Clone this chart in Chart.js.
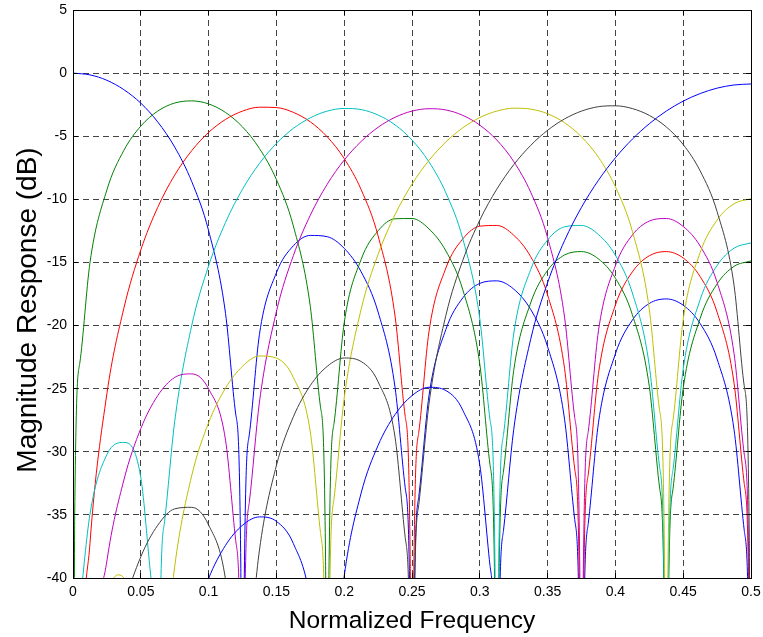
<!DOCTYPE html>
<html><head><meta charset="utf-8">
<script src="https://cdn.jsdelivr.net/npm/chart.js@4.4.1/dist/chart.umd.min.js"></script>
<style>html,body{margin:0;padding:0;background:#fff;}#wrap{width:763px;height:637px;}</style>
</head><body><div id="wrap"><canvas id="c" width="763" height="637"></canvas></div>
<script>
// Normalized frequency grid (shared by all series)
const freq = [0,0.0125,0.025,0.0375,0.05,0.0625,0.075,0.0875,0.1,0.1125,0.125,0.1375,0.15,0.1625,0.175,0.1875,0.2,0.2125,0.225,0.2375,0.25,0.2625,0.275,0.2875,0.3,0.3125,0.325,0.3375,0.35,0.3625,0.375,0.3875,0.4,0.4125,0.425,0.4375,0.45,0.4625,0.475,0.4875,0.5];
// Magnitude responses in dB (values far below -40 mark the nulls)
const h0 = [0,-0.14,-0.57,-1.31,-2.38,-3.87,-5.86,-8.58,-12.48,-19.05,-100,-20.70,-15.82,-13.68,-12.86,-12.96,-13.88,-15.74,-18.93,-24.90,-100,-25.58,-20.30,-17.80,-16.66,-16.46,-17.11,-18.72,-21.68,-27.42,-100,-27.71,-22.24,-19.57,-18.25,-17.89,-18.39,-19.84,-22.65,-28.25,-100];
const h1 = [-100,-15.03,-9.25,-6.12,-4.20,-3.01,-2.37,-2.20,-2.44,-3.12,-4.26,-5.97,-8.43,-12.11,-18.48,-100,-19.79,-14.76,-12.49,-11.54,-11.52,-12.34,-14.09,-17.18,-23.06,-100,-23.57,-18.21,-15.63,-14.41,-14.14,-14.72,-16.25,-19.14,-24.82,-100,-24.97,-19.43,-16.70,-15.31,-14.88];
const h2 = [-100,-37.28,-25.40,-18.63,-14.01,-10.63,-8.08,-6.15,-4.70,-3.67,-3.01,-2.70,-2.73,-3.11,-3.86,-5.05,-6.77,-9.23,-12.90,-19.25,-100,-20.50,-15.44,-13.13,-12.13,-12.07,-12.84,-14.54,-17.58,-23.40,-100,-23.81,-18.38,-15.75,-14.47,-14.14,-14.65,-16.12,-18.94,-24.56,-100];
const h3 = [-100,-34.96,-30.22,-29.26,-32.04,-100,-27.59,-20.02,-15.27,-11.83,-9.20,-7.16,-5.57,-4.38,-3.54,-3.01,-2.80,-2.89,-3.32,-4.10,-5.30,-7.03,-9.49,-13.14,-19.47,-100,-20.67,-15.57,-13.22,-12.18,-12.07,-12.79,-14.43,-17.42,-23.18,-100,-23.44,-17.95,-15.24,-13.87,-13.45];
const h4 = [-100,-50.3,-38.65,-32.24,-28.16,-25.55,-24.11,-23.83,-25.02,-29.08,-100,-26.06,-18.90,-14.46,-11.26,-8.80,-6.89,-5.41,-4.29,-3.50,-3.01,-2.82,-2.92,-3.35,-4.12,-5.30,-7.00,-9.43,-13.04,-19.33,-100,-20.42,-15.25,-12.83,-11.72,-11.52,-12.15,-13.70,-16.58,-22.22,-100];
const h5 = [-100,-45.48,-40.82,-39.99,-42.95,-100,-39.08,-31.91,-27.70,-24.95,-23.23,-22.41,-22.58,-24.11,-28.43,-100,-25.75,-18.71,-14.36,-11.21,-8.80,-6.92,-5.45,-4.33,-3.52,-3.01,-2.78,-2.85,-3.22,-3.93,-5.05,-6.67,-9.01,-12.53,-18.70,-100,-19.54,-14.22,-11.64,-10.35,-9.95];
const h6 = [-100,-60.3,-48.67,-42.31,-38.32,-35.82,-34.52,-34.40,-35.80,-40.13,-100,-37.79,-31.09,-27.23,-24.75,-23.23,-22.57,-22.85,-24.46,-28.84,-100,-26.23,-19.19,-14.82,-11.65,-9.20,-7.26,-5.73,-4.53,-3.63,-3.01,-2.66,-2.59,-2.81,-3.35,-4.26,-5.66,-7.75,-10.98,-16.82,-100];
const h7 = [-100,-57.4,-52.8,-52.0,-55.0,-100,-51.2,-44.16,-40.04,-37.41,-35.82,-35.16,-35.51,-37.27,-41.85,-100,-39.86,-33.27,-29.49,-27.05,-25.55,-24.89,-25.15,-26.72,-31.04,-100,-28.25,-21.10,-16.60,-13.27,-10.63,-8.49,-6.71,-5.23,-4.01,-3.01,-2.22,-1.62,-1.19,-0.94,-0.86];
// Extra points read near the sharp nulls: [frequency, dB]
const h0Edge = [[0.12,-27.01],[0.12375,-39.05],[0.12625,-40.70],[0.13,-28.66],[0.245,-32.86],[0.24875,-44.90],[0.25125,-45.58],[0.255,-33.54],[0.37,-35.38],[0.37375,-47.42],[0.37625,-47.71],[0.38,-35.67],[0.495,-36.21],[0.49875,-48.25]];
const h1Edge = [[0.00125,-35.03],[0.005,-22.99],[0.1825,-26.44],[0.18625,-38.48],[0.18875,-39.79],[0.1925,-27.75],[0.3075,-31.02],[0.31125,-43.06],[0.31375,-43.57],[0.3175,-31.53],[0.4325,-32.78],[0.43625,-44.82],[0.43875,-44.97],[0.4425,-32.93]];
const h2Edge = [[0.00625,-49.32],[0.245,-27.21],[0.24875,-39.25],[0.25125,-40.50],[0.255,-28.46],[0.37,-31.36],[0.37375,-43.40],[0.37625,-43.81],[0.38,-31.77],[0.495,-32.52],[0.49875,-44.56]];
const h3Edge = [[0.00125,-54],[0.005,-42.2],[0.0575,-40.0],[0.06125,-52.04],[0.06375,-47.59],[0.0675,-35.55],[0.3075,-27.43],[0.31125,-39.47],[0.31375,-40.67],[0.3175,-28.63],[0.4325,-31.14],[0.43625,-43.18],[0.43875,-43.44],[0.4425,-31.40]];
const h4Edge = [[0.12,-37.04],[0.12375,-49.08],[0.12625,-46.06],[0.13,-34.02],[0.37,-27.29],[0.37375,-39.33],[0.37625,-40.42],[0.38,-28.38],[0.495,-30.18],[0.49875,-42.22]];
const h5Edge = [[0.033,-39.75],[0.0575,-50.91],[0.06125,-62.95],[0.06375,-59.08],[0.0675,-47.04],[0.1825,-36.39],[0.18625,-48.43],[0.18875,-45.75],[0.1925,-33.71],[0.4325,-26.66],[0.43625,-38.70],[0.43875,-39.54],[0.4425,-27.50]];
const h6Edge = [[0.12,-48.09],[0.12375,-60.13],[0.12625,-57.79],[0.13,-45.75],[0.245,-36.80],[0.24875,-48.84],[0.25125,-46.23],[0.255,-34.19],[0.495,-24.78],[0.49875,-36.82]];
const h7Edge = [[0.1825,-49.81],[0.18625,-61.85],[0.18875,-59.86],[0.1925,-47.82],[0.3075,-39.00],[0.31125,-51.04],[0.31375,-48.25],[0.3175,-36.21]];

const seriesNames = ['H0','H1','H2','H3','H4','H5','H6','H7'];
const seriesColors = ['#0000ff','#008000','#ff0000','#00bfbf','#bf00bf','#bfbf00','#404040','#0000ff'];
const xTicks = [0,0.05,0.1,0.15,0.2,0.25,0.3,0.35,0.4,0.45,0.5];
const xTickLabels = ['0','0.05','0.1','0.15','0.2','0.25','0.3','0.35','0.4','0.45','0.5'];
const yTicks = [-40,-35,-30,-25,-20,-15,-10,-5,0,5];
const yTickLabels = ['-40','-35','-30','-25','-20','-15','-10','-5','0','5'];
const xTitle = 'Normalized Frequency';
const yTitle = 'Magnitude Response (dB)';

const FONT = '"Liberation Sans", Arial, Helvetica, sans-serif';
const allVals = [h0,h1,h2,h3,h4,h5,h6,h7];
const allEdges = [h0Edge,h1Edge,h2Edge,h3Edge,h4Edge,h5Edge,h6Edge,h7Edge];

function buildPoints(vals, edges){
  const pts = freq.map((f,i)=>({x:f, y:vals[i]}));
  edges.forEach(e=>pts.push({x:e[0], y:e[1]}));
  pts.sort((a,b)=>a.x-b.x);
  return pts;
}

const datasets = allVals.map((v,i)=>({
  label: seriesNames[i],
  data: buildPoints(v, allEdges[i]),
  borderColor: seriesColors[i],
  backgroundColor: seriesColors[i],
  borderWidth: 1,
  pointRadius: 0,
  fill: false,
  cubicInterpolationMode: 'monotone',
  order: allVals.length - i
}));

const framePlugin = {
  id: 'frame',
  afterDraw(chart){
    const {ctx, chartArea:a, scales:{x, y}} = chart;
    ctx.save();
    ctx.strokeStyle = '#000';
    ctx.lineWidth = 1;
    ctx.beginPath();
    const L = 5;
    xTicks.forEach(v=>{
      const px = Math.round(x.getPixelForValue(v)-0.5)+0.5;
      ctx.moveTo(px, a.bottom); ctx.lineTo(px, a.bottom-L);
      ctx.moveTo(px, a.top); ctx.lineTo(px, a.top+L);
    });
    yTicks.forEach(v=>{
      const py = Math.round(y.getPixelForValue(v)-0.5)+0.5;
      ctx.moveTo(a.left, py); ctx.lineTo(a.left+L, py);
      ctx.moveTo(a.right, py); ctx.lineTo(a.right-L, py);
    });
    ctx.stroke();
    ctx.strokeRect(Math.round(a.left-0.5)+0.5, Math.round(a.top-0.5)+0.5, Math.round(a.right-a.left), Math.round(a.bottom-a.top));
    // y axis title
    ctx.fillStyle = '#000';
    ctx.font = '28px ' + FONT;
    ctx.textAlign = 'center';
    ctx.textBaseline = 'alphabetic';
    ctx.translate(36, 310);
    ctx.rotate(-Math.PI/2);
    ctx.fillText(yTitle, 0, 0);
    ctx.restore();
  }
};

function noPad(s){ s.paddingTop = 0; s.paddingBottom = 0; s.paddingLeft = 0; s.paddingRight = 0; }

new Chart(document.getElementById('c'), {
  type: 'line',
  data: { datasets },
  options: {
    responsive: false,
    animation: false,
    devicePixelRatio: 1,
    layout: { padding: { top: 10, right: 12, left: 0, bottom: 0 } },
    plugins: { legend: { display: false }, tooltip: { enabled: false } },
    scales: {
      x: {
        type: 'linear', min: 0, max: 0.5,
        afterFit(s){ s.height = 59; noPad(s); },
        afterBuildTicks(s){ s.ticks = xTicks.map(v=>({value:v})); },
        ticks: { callback: (v,i)=>xTickLabels[i], color: '#000', font: { family: FONT, size: 14 }, padding: 6, maxRotation: 0, autoSkip: false },
        grid: { color: '#444', lineWidth: 1, drawTicks: false },
        border: { display: false, dash: [6,4] },
        title: { display: true, text: xTitle, color: '#000', font: { family: FONT, size: 24.5 }, padding: { top: 0, bottom: 1.5 } }
      },
      y: {
        type: 'linear', min: -40, max: 5,
        afterFit(s){ s.width = 73; noPad(s); },
        afterBuildTicks(s){ s.ticks = yTicks.map(v=>({value:v})); },
        ticks: { callback: (v,i)=>yTickLabels[i], color: '#000', font: { family: FONT, size: 14 }, padding: 6, autoSkip: false },
        grid: { color: '#444', lineWidth: 1, drawTicks: false },
        border: { display: false, dash: [6,4] }
      }
    }
  },
  plugins: [framePlugin]
});
</script>
</body></html>
